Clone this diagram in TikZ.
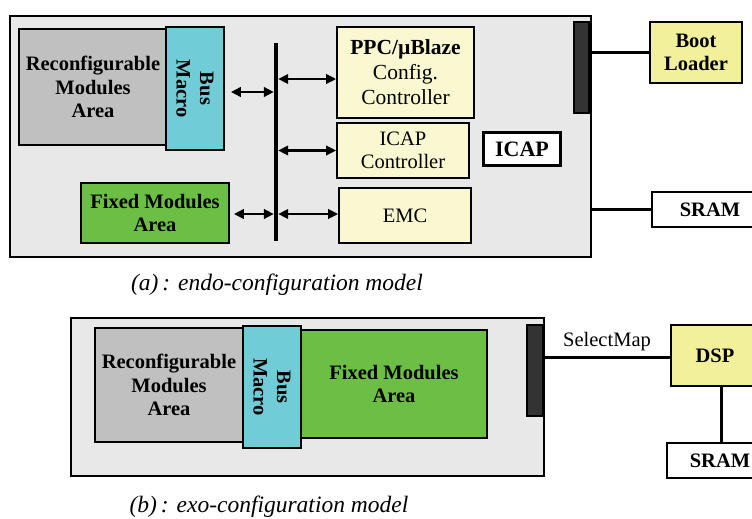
\documentclass[tikz,border=0pt]{standalone}
\usepackage{fontspec}
\setmainfont{Liberation Serif}
\usetikzlibrary{arrows.meta}
\definecolor{panelgray}{HTML}{E8E8E8}
\definecolor{rmgray}{HTML}{C0C0C0}
\definecolor{buscyan}{HTML}{70CDD8}
\definecolor{fixgreen}{HTML}{6DBE45}
\definecolor{ctrlyellow}{HTML}{FAF8D0}
\definecolor{extyellow}{HTML}{F3F09B}
\definecolor{portdark}{HTML}{333333}
\begin{document}
\begin{tikzpicture}[x=1pt,y=-1pt,
  box/.style={draw=black, line width=1.8pt, inner sep=0pt, align=center},
  bold20/.style={font=\bfseries\fontsize{20.5}{23.5}\selectfont},
  reg20/.style={font=\fontsize{20.5}{23}\selectfont},
  biarrow/.style={line width=2.2pt,
    {Triangle[length=10pt,width=9.5pt]}-{Triangle[length=10pt,width=9.5pt]}},
  wire/.style={line width=3pt},
  caption/.style={font=\itshape\fontsize{23.5}{27}\selectfont}]
\useasboundingbox (0,0) rectangle (752,519);

% ---------------- (a) endo-configuration ----------------
\node[box, fill=panelgray, minimum width=581, minimum height=241] (panelA) at (300.5,136.5) {};
\node[box, fill=rmgray, minimum width=148, minimum height=116, bold20] (rmA) at (93,87)
  {Reconfigurable\\Modules\\Area};
\node[box, fill=buscyan, minimum width=58, minimum height=123] (bmA) at (195,88.5) {};
\node[bold20, rotate=-90, align=center, inner sep=0pt] (bmAtxt) at (bmA.center) {Bus\\Macro};
\node[box, fill=fixgreen, minimum width=148, minimum height=60, bold20] (fmA) at (155,213)
  {Fixed Modules\\Area};
\node[fill=black, inner sep=0pt, minimum width=4, minimum height=198] (bus) at (276,142) {};

\node[box, fill=ctrlyellow, minimum width=137, minimum height=91,
      font=\fontsize{21.5}{25}\selectfont] (ppc) at (405.5,72.5)
  {\textbf{PPC/µBlaze}\\Config.\\Controller};
\node[box, fill=ctrlyellow, minimum width=132, minimum height=55, reg20] (icapc) at (403,150.5)
  {ICAP\\Controller};
\node[box, fill=ctrlyellow, minimum width=132, minimum height=55, reg20] (emc) at (405,215.5)
  {EMC};
\node[box, fill=white, line width=3pt, minimum width=77, minimum height=33,
      font=\bfseries\fontsize{22}{26}\selectfont] (icap) at (522,149) {ICAP};
\node[box, fill=portdark, minimum width=15, minimum height=91] (barA) at (581.5,67.5) {};

\node[box, fill=extyellow, minimum width=92, minimum height=61, bold20] (boot) at (696,52.5)
  {Boot\\Loader};
\node[box, fill=white, minimum width=116, minimum height=35, bold20] (sramA) at (710,209.5)
  {SRAM};

% bus connections
\draw[biarrow, line width=2.8pt] ([xshift=6pt]bmA.east |- 0,92) -- (bus.west |- 0,92);
\draw[biarrow, line width=2.8pt] ([xshift=4pt]fmA.east |- 0,214) -- (bus.west |- 0,214);
\draw[biarrow] (bus.east |- 0,79) -- (ppc.west |- 0,79);
\draw[biarrow] (bus.east |- icapc.west) -- (icapc.west);
\draw[biarrow] (bus.east |- 0,214) -- (emc.west |- 0,214);

% external links
\draw[wire] (barA.east |- boot.west) -- (boot.west);
\draw[wire] (panelA.east |- sramA.west) -- (sramA.west);

\node[caption] (capA) at (277,285) {(a)\,: endo-configuration model};

% ---------------- (b) exo-configuration ----------------
\node[box, fill=panelgray, minimum width=473, minimum height=158] (panelB) at (307.5,397) {};
\node[box, fill=rmgray, minimum width=148, minimum height=114, bold20] (rmB) at (169,385)
  {Reconfigurable\\Modules\\Area};
\node[box, fill=fixgreen, minimum width=186, minimum height=108, bold20] (fmB) at (394,384)
  {Fixed Modules\\Area};
\node[box, fill=buscyan, minimum width=58, minimum height=122] (bmB) at (272,387) {};
\node[bold20, rotate=-90, align=center, inner sep=0pt] (bmBtxt) at (bmB.center) {Bus\\Macro};
\node[box, fill=portdark, minimum width=16, minimum height=91] (barB) at (535,370.5) {};

\node[box, fill=extyellow, minimum width=88, minimum height=61, bold20] (dsp) at (715,355.5)
  {DSP};
\node[box, fill=white, minimum width=106, minimum height=35, bold20] (sramB) at (720,460.5)
  {SRAM};

\draw[wire] (barB.east |- 0,357) -- node[above=1pt, font=\fontsize{20.5}{23}\selectfont] (smap) {SelectMap}
  (dsp.west |- 0,357);
\draw[wire] (dsp.south -| 721,0) -- (sramB.north -| 721,0);

\node[caption] (capB) at (269,507) {(b)\,: exo-configuration model};
\end{tikzpicture}
\end{document}
